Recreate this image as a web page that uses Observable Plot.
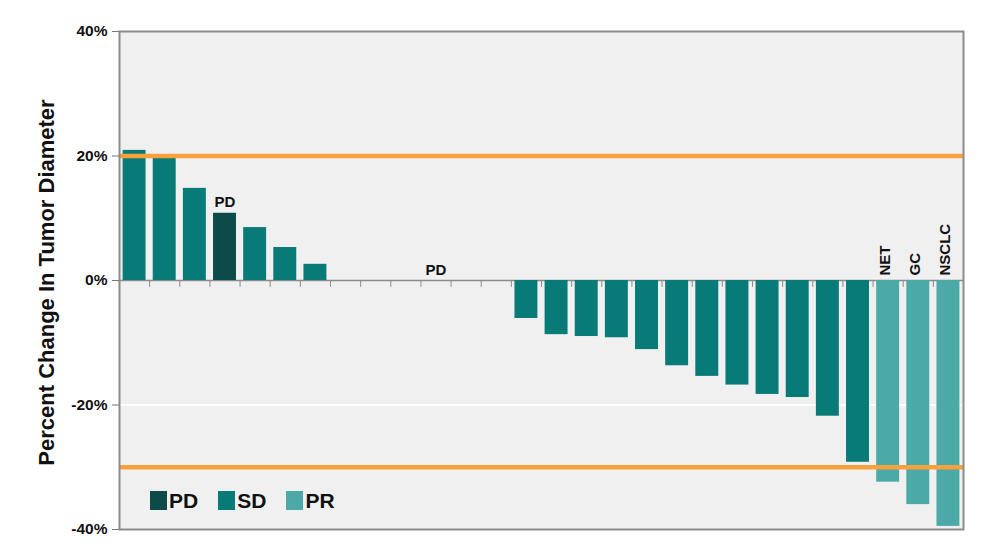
<!DOCTYPE html>
<html>
<head>
<meta charset="utf-8">
<script src="https://cdn.jsdelivr.net/npm/d3@7"></script>
<script src="https://cdn.jsdelivr.net/npm/@observablehq/plot@0.6"></script>
<style>
  html, body { margin: 0; padding: 0; background: #fff; }
  #chart { position: relative; width: 993px; height: 556px; font-family: "Liberation Sans", Arial, Helvetica, sans-serif; }
  #legend { position: absolute; left: 150px; top: 484px; }
  .resp-swatches { font-family: "Liberation Sans", Arial, sans-serif; font-size: 21px !important; font-weight: bold; color: #111; }
  .resp-swatch > svg { margin-right: 2px !important; }
  .resp-swatch { margin-right: 20px !important; }
</style>
</head>
<body>
<div id="chart"><div id="legend"></div></div>
<script>
// Best percent change in tumor diameter, one bar per patient (waterfall order)
const responses = ["PD", "SD", "PR"];
const responseColors = ["#0c4b4a", "#087a77", "#4ba9a7"];

const patientResponse = [
  "SD", "SD", "SD", "PD", "SD", "SD", "SD",
  "SD", "SD", "SD", "PD", "SD", "SD",
  "SD", "SD", "SD", "SD", "SD", "SD", "SD", "SD", "SD", "SD", "SD", "SD",
  "PR", "PR", "PR"
];
const percentChange = [
  20.9, 19.9, 14.8, 10.8, 8.5, 5.3, 2.6,
  0, 0, 0, 0, 0, 0,
  -6.1, -8.7, -9.0, -9.2, -11.1, -13.7, -15.4, -16.8, -18.3, -18.8, -21.8, -29.2,
  -32.4, -36.0, -39.5
];

// Bar annotations: progression notes and tumor types of the responders
const noteSlots = [4, 11];
const noteLabels = ["PD", "PD"];
const tumorSlots = [26, 27, 28];
const tumorLabels = ["NET", "GC", "NSCLC"];

// Response thresholds (RECIST): +20% progression, -30% partial response
const thresholds = [20, -30];
const yTicks = [-40, -20, 0, 20, 40];
const gridLines = [-20, 20];
const yTitle = "Percent Change In Tumor Diameter";

const patients = percentChange.map((value, i) => ({slot: i + 1, value, response: patientResponse[i]}));
const notes = noteSlots.map((slot, i) => ({slot, label: noteLabels[i], value: percentChange[slot - 1]}));
const tumors = tumorSlots.map((slot, i) => ({slot, label: tumorLabels[i]}));
const slotBounds = d3.range(1.5, patients.length, 1);

const font = '"Liberation Sans", Arial, Helvetica, sans-serif';

const chart = Plot.plot({
  width: 993,
  height: 556,
  marginLeft: 119,
  marginRight: 30,
  marginTop: 31,
  marginBottom: 27,
  style: {fontFamily: font, background: "#ffffff", color: "#111"},
  x: {domain: [0.5, patients.length + 0.5], axis: null},
  y: {domain: [-40, 40]},
  color: {domain: responses, range: responseColors},
  marks: [
    Plot.frame({fill: "#f0f0f0"}),
    Plot.gridY(gridLines, {stroke: "#ffffff", strokeOpacity: 1, strokeWidth: 2}),
    Plot.ruleY([0], {stroke: "#8a8a8a", strokeWidth: 1.5}),
    Plot.ruleX(slotBounds, {y1: 0, y2: -1.1, stroke: "#8a8a8a", strokeWidth: 1}),
    Plot.rectY(patients, {
      x1: d => d.slot - 0.5,
      x2: d => d.slot + 0.5,
      y1: 0,
      y2: "value",
      fill: "response",
      insetLeft: 3.6,
      insetRight: 3.6
    }),
    Plot.ruleY(thresholds, {stroke: "#f7a13c", strokeWidth: 4.5}),
    Plot.text(notes, {
      x: "slot", y: "value", text: "label",
      lineAnchor: "bottom", dy: -6,
      fontSize: 15, fontWeight: "bold", fill: "#111"
    }),
    Plot.text(tumors, {
      x: "slot", y: 0, text: "label",
      rotate: -90, textAnchor: "start", dx: -3, dy: -5,
      fontSize: 15, fontWeight: "bold", fill: "#111"
    }),
    Plot.frame({stroke: "#8c8c8c", strokeWidth: 2}),
    Plot.axisY({
      ticks: yTicks,
      tickFormat: d => `${d}%`,
      tickSize: 7,
      tickPadding: 5,
      stroke: "#777",
      fontSize: 15.5,
      fontWeight: "bold",
      label: null
    }),
    Plot.text([yTitle], {
      frameAnchor: "left",
      textAnchor: "middle",
      rotate: -90,
      dx: -73,
      dy: 2,
      fontSize: 22,
      fontWeight: "bold",
      fill: "#111",
      letterSpacing: "0.6px"
    })
  ]
});

document.getElementById("chart").prepend(chart);

const legend = Plot.legend({
  color: {domain: responses, range: responseColors},
  swatchWidth: 17,
  swatchHeight: 19,
  className: "resp"
});
document.getElementById("legend").append(legend);
</script>
</body>
</html>
